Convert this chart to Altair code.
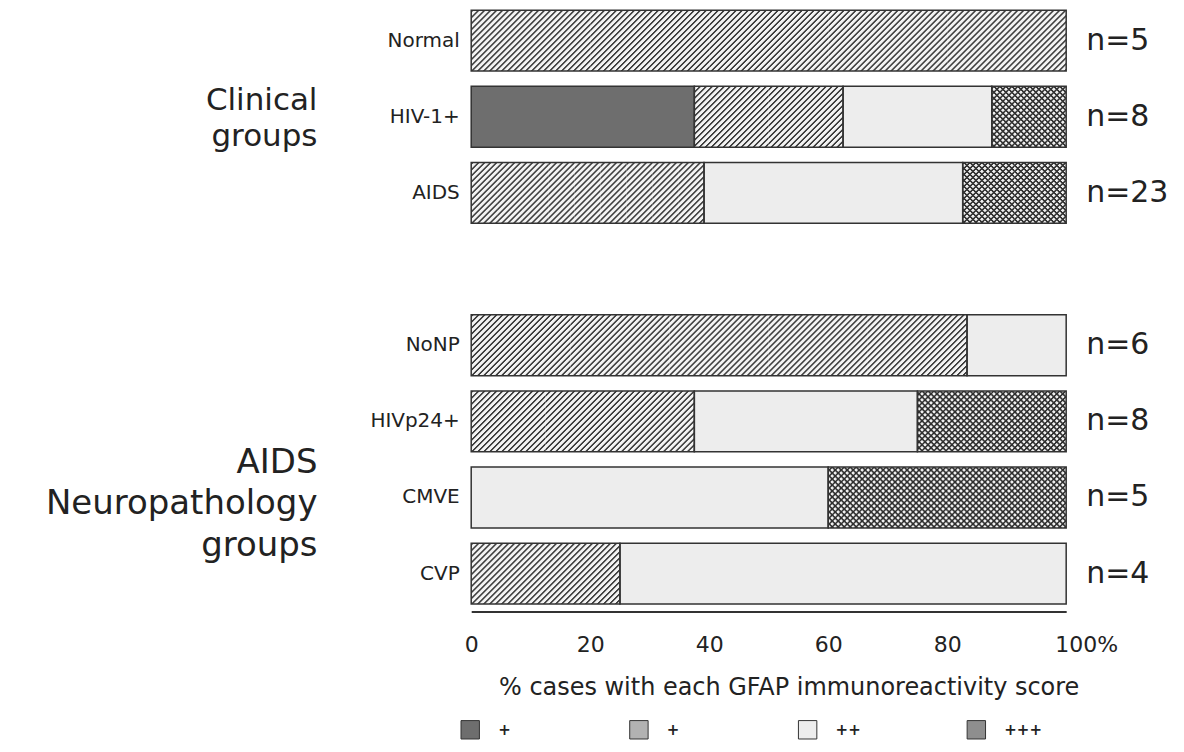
import altair as alt
import pandas as pd

# ---- data (counts of cases per GFAP score) ----
GROUPS = ["Normal", "HIV-1+", "AIDS", "NoNP", "HIVp24+", "CMVE", "CVP"]
ROWS = ["Normal", "HIV-1+", "AIDS", " ", "NoNP", "HIVp24+", "CMVE", "CVP"]  # " " = gap row
SCORE_KEYS = ["+ (dense)", "+ (hatched)", "++", "+++"]
SCORE_LABELS = ["+", "+", "++", "+++"]
COUNTS = {
    "Normal":  [0, 5, 0, 0],
    "HIV-1+":  [3, 2, 2, 1],
    "AIDS":    [0, 9, 10, 4],
    "NoNP":    [0, 5, 1, 0],
    "HIVp24+": [0, 3, 3, 2],
    "CMVE":    [0, 0, 3, 2],
    "CVP":     [0, 1, 3, 0],
}
FILLS = ["#6e6e6e", "#b2b2b2", "#ededed", "#8e8e8e"]

FONT = "DejaVu Sans"
W, H = 596, 598
PAD_INNER, PAD_OUTER = 0.2, 0.02
BAND = H / (len(ROWS) - PAD_INNER + 2 * PAD_OUTER) * (1 - PAD_INNER)
PERIOD = 6.0
CORE = 1.2   # fully dark part of a stripe (in x+y units)
RAMP = 1.0   # soft edge on each side, for anti-aliasing


def stripes(w, h, x0, back=False, dark="#404040", light="#f3f3f3"):
    """Diagonal hatching ('/' or '\\') as a striped linear gradient in bbox units,
    phase-aligned to the global x position x0 so stripes continue across pieces."""
    total = w + h
    a = total / (w * w + h * h)
    off = (x0 - h) if back else x0
    phase = off % PERIOD
    pts = []
    k = -1
    while k * PERIOD - phase < total + PERIOD:
        s0 = k * PERIOD - phase
        pts += [(s0, light), (s0 + RAMP, dark), (s0 + RAMP + CORE, dark),
                (s0 + 2 * RAMP + CORE, light)]
        k += 1
    stops = []
    for s, col in pts:
        if 0.0 <= s <= total:
            stops.append({"offset": s / total, "color": col})
    if not stops or stops[0]["offset"] > 0:
        stops.insert(0, {"offset": 0.0, "color": light})
    if back:
        return {"gradient": "linear", "x1": 0, "y1": 1, "x2": a * w, "y2": 1 - a * h, "stops": stops}
    return {"gradient": "linear", "x1": 0, "y1": 0, "x2": a * w, "y2": a * h, "stops": stops}


piece_rows, seg_rows = [], []
for g in GROUPS:
    n = sum(COUNTS[g])
    cum = 0.0
    for i, (k, c) in enumerate(zip(SCORE_KEYS, COUNTS[g])):
        if c == 0:
            continue
        seg_rows.append({"group": g, "score": k, "order": i, "pct": 100.0 * c / n})
        patterned = k in ("+ (hatched)", "+++")
        pieces = c if patterned else 1
        for j in range(pieces):
            pct = 100.0 * (1 if patterned else c) / n
            w = pct / 100.0 * W
            x0 = cum / 100.0 * W
            if k == "+ (hatched)":
                f1, f2 = stripes(w, BAND, x0), "transparent"
            elif k == "+++":
                f1 = stripes(w, BAND, x0, dark="#353535", light="#eeeeee")
                f2 = stripes(w, BAND, x0, back=True, dark="#353535", light="rgba(0,0,0,0)")
            else:
                f1, f2 = FILLS[i], "transparent"
            piece_rows.append({"group": g, "score": k, "order": i * 100 + j, "pct": pct,
                               "f1": f1, "f2": f2})
            cum += pct
pieces_df = pd.DataFrame(piece_rows)
seg_df = pd.DataFrame(seg_rows)
ndf = pd.DataFrame({"group": GROUPS, "label": ["n=%d" % sum(COUNTS[g]) for g in GROUPS]})
clin = pd.DataFrame({"group": ["HIV-1+"], "text": [["Clinical", "groups"]]})
neuro = pd.DataFrame({"group": ["CMVE"], "text": [["AIDS", "Neuropathology", "groups"]]})

yscale = alt.Scale(domain=ROWS, paddingInner=PAD_INNER, paddingOuter=PAD_OUTER)
xscale = alt.Scale(domain=[0, 100], nice=False)

base_fill = alt.Chart(pieces_df).mark_bar(strokeWidth=0).encode(
    y=alt.Y("group:N", scale=yscale,
            axis=alt.Axis(title=None, domain=False, ticks=False, labelFont=FONT,
                          labelFontSize=20, labelColor="#222", labelPadding=12)),
    x=alt.X("pct:Q", stack="zero", scale=xscale,
            axis=alt.Axis(values=[0, 20, 40, 60, 80, 100], ticks=False, grid=False,
                          domainColor="#333", domainWidth=2, offset=6,
                          labelFont=FONT, labelFontSize=22, labelColor="#222",
                          labelPadding=23, labelFlush=False, labelOverlap=False,
                          labelExpr="datum.value == 100 ? '100%' : datum.label",
                          labelOffset={"condition": {"test": "datum.value == 100", "value": 20}, "value": 0},
                          title="% cases with each GFAP immunoreactivity score",
                          titleFont=FONT, titleFontSize=24, titleFontWeight="normal",
                          titleColor="#222", titlePadding=20, titleX=318)),
    fill=alt.Fill("f1:N", scale=None),
    order=alt.Order("order:Q"),
)

cross_fill = alt.Chart(pieces_df).mark_bar(strokeWidth=0).encode(
    y=alt.Y("group:N", scale=yscale),
    x=alt.X("pct:Q", stack="zero", scale=xscale),
    fill=alt.Fill("f2:N", scale=None),
    order=alt.Order("order:Q"),
)

outlines = alt.Chart(seg_df).mark_bar(fill="transparent", stroke="#333333", strokeWidth=1.5).encode(
    y=alt.Y("group:N", scale=yscale),
    x=alt.X("pct:Q", stack="zero", scale=xscale),
    order=alt.Order("order:Q"),
)

legend_layer = alt.Chart(seg_df).mark_square(opacity=0).encode(
    y=alt.Y("group:N", scale=yscale),
    x=alt.X("pct:Q", scale=xscale),
    color=alt.Color("score:N",
                    scale=alt.Scale(domain=SCORE_KEYS, range=FILLS),
                    legend=alt.Legend(title=None, orient="none", legendX=-11, legendY=712,
                                      direction="horizontal", columns=4, gridAlign="all",
                                      columnPadding=91, symbolType="square", symbolSize=340,
                                      symbolStrokeColor="#333", symbolStrokeWidth=1,
                                      symbolOpacity=1, labelFont=FONT, labelFontSize=15,
                                      labelFontWeight="bold", labelColor="#222", labelOffset=18,
                                      padding=0,
                                      labelExpr="datum.label == '+ (dense)' || datum.label == '+ (hatched)' ? '+' : datum.label")),
)

nlab = alt.Chart(ndf).mark_text(align="left", baseline="middle", dx=20, font=FONT,
                                fontSize=30, color="#222").encode(
    y=alt.Y("group:N", scale=yscale), x=alt.datum(100), text="label:N")

clin_t = alt.Chart(clin).mark_text(align="right", baseline="middle", font=FONT, fontSize=31,
                                   lineHeight=36, color="#222", dx=-154, dy=-16).encode(
    y=alt.Y("group:N", scale=yscale), x=alt.datum(0), text="text")

neuro_t = alt.Chart(neuro).mark_text(align="right", baseline="middle", font=FONT, fontSize=34,
                                     lineHeight=42, color="#222", dx=-154, dy=-35).encode(
    y=alt.Y("group:N", scale=yscale), x=alt.datum(0), text="text")

chart = alt.layer(base_fill, cross_fill, outlines, legend_layer, nlab, clin_t, neuro_t).properties(
    width=W, height=H,
    autosize=alt.AutoSizeParams(type="none"),
    padding={"left": 464, "top": 0, "right": 110, "bottom": 138},
    background="white",
).configure_view(stroke=None)

chart.save("out.html", embed_options={"renderer": "svg", "actions": False})
